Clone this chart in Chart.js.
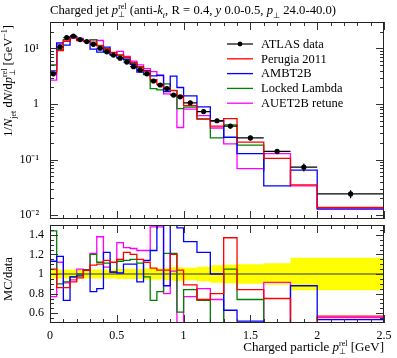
<!DOCTYPE html>
<html>
<head>
<meta charset="utf-8">
<script src="https://cdn.jsdelivr.net/npm/chart.js@4.4.0/dist/chart.umd.min.js"></script>
<style>
  body { margin: 0; background: #fff; }
  #wrap { position: relative; width: 397px; height: 358px; font-family: "Liberation Serif", serif; color: #000; overflow: hidden; }
  canvas { position: absolute; left: 0; }
  #cTop { top: 0; }
  #cRatio { top: 223px; }
  .lbl { position: absolute; white-space: nowrap; font-size: 12.5px; line-height: 14px; }
  .lbl sub, .lbl sup { font-size: 8px; line-height: 0; }
  .ss { display: inline-flex; flex-direction: column; font-size: 8px; line-height: 8px; vertical-align: 5px; }
  .rot { transform-origin: 0 0; transform: rotate(-90deg); }
</style>
</head>
<body>
<div id="wrap">
  <canvas id="cTop" width="397" height="223"></canvas>
  <canvas id="cRatio" width="397" height="135"></canvas>
  <div class="lbl" style="left:50px; top:3px; font-size:12.7px;">Charged jet <i>p</i><span class="ss"><span>rel</span><span>⊥</span></span> (anti-<i>k</i><sub><i>t</i></sub>, R = 0.4, <i>y</i> 0.0-0.5, <i>p</i><sub>⊥</sub> 24.0-40.0)</div>
  <div class="lbl rot" style="left:1px; top:225px; width:200px; text-align:right;">1/<i>N</i><sub>jet</sub> d<i>N</i>/d<i>p</i><span class="ss"><span>rel</span><span>⊥</span></span> [GeV<sup>−1</sup>]</div>
  <div class="lbl rot" style="left:1px; top:329px; width:100px; text-align:center;">MC/data</div>
  <div class="lbl" style="right:13px; top:340px; font-size:13px;">Charged particle <i>p</i><span class="ss"><span>rel</span><span>⊥</span></span> [GeV]</div>
</div>
<script>
// bins in p_T^rel [GeV]
const binEdges = [0, 0.05, 0.1, 0.15, 0.2, 0.25, 0.3, 0.35, 0.4, 0.45, 0.5, 0.55, 0.6, 0.65, 0.7,
                  0.75, 0.8, 0.85, 0.9, 0.95, 1.0, 1.1, 1.2, 1.3, 1.4, 1.6, 1.8, 2.0, 2.5];

const atlasData = [3.5, 10.7, 15.7, 16.8, 14.5, 13.3, 11.9, 10.1, 8.7, 7.6, 6.7, 5.7, 4.7, 4.1,
                   3.5, 2.6, 2.2, 1.9, 1.45, 1.35, 1.05, 0.73, 0.50, 0.40, 0.245, 0.14, 0.073, 0.024];
// relative uncertainty of the data (yellow band)
const atlasRelErr = [0.045, 0.045, 0.045, 0.045, 0.045, 0.045, 0.045, 0.045, 0.045, 0.045, 0.05, 0.05, 0.05, 0.05,
                     0.055, 0.055, 0.055, 0.06, 0.07, 0.07, 0.065, 0.075, 0.09, 0.095, 0.1, 0.11, 0.165, 0.165];

// MC / data
const ratioPerugia = [1.05, 0.86, 0.86, 0.92, 0.96, 1.04, 1.09, 1.10, 1.14, 1.12, 1.15, 1.22, 1.20, 1.15,
                      1.12, 1.06, 1.04, 1.04, 1.20, 1.04, 0.89, 0.74, 0.80, 1.37, 0.84, 0.75, 0.48, 0.57];
const ratioAMBT2B = [1.13, 1.18, 0.73, 0.97, 0.98, 1.04, 0.82, 0.85, 1.22, 1.02, 1.01, 1.10, 1.10, 0.92,
                     1.14, 1.24, 1.50, 0.88, 2.20, 1.47, 1.33, 1.22, 1.00, 0.63, 0.52, 0.24, 0.88, 0.535];
const ratioLocked = [1.44, 0.90, 0.92, 0.97, 1.00, 1.04, 1.20, 1.12, 1.11, 1.02, 1.13, 1.14, 1.15, 1.11,
                     0.97, 0.73, 0.82, 1.21, 1.21, 0.61, 0.84, 0.73, 0.49, 1.05, 0.74, 0.43, 0, 0];
const ratioAUET2B = [0.77, 1.12, 0.91, 0.94, 1.05, 1.04, 1.21, 1.38, 1.07, 1.02, 1.32, 1.27, 1.26, 1.24,
                     1.24, 1.48, 1.48, 0.80, 1.03, 0.28, 0.77, 0.85, 0.74, 0.48, 0.28, 0.915, 0.46, 0.555];

const xTicks = [0, 0.5, 1, 1.5, 2, 2.5];
const logTicks = [0.01, 0.1, 1, 10];
const logTickLabels = ['10⁻²', '10⁻¹', '1', '10¹'];
const ratioTicks = [0.6, 0.8, 1, 1.2, 1.4];

const models = [
  { label: 'Perugia 2011', color: '#ff0000', ratio: ratioPerugia },
  { label: 'AMBT2B', color: '#0000ff', ratio: ratioAMBT2B },
  { label: 'Locked Lambda', color: '#008000', ratio: ratioLocked },
  { label: 'AUET2B retune', color: '#ff00ff', ratio: ratioAUET2B }
];

const FONT = '"Liberation Serif", serif';
const nBins = atlasData.length;

function steps(vals) {
  const pts = vals.map((v, i) => ({ x: binEdges[i], y: v }));
  pts.push({ x: binEdges[nBins], y: vals[nBins - 1] });
  return pts;
}

function stepLine(label, color, vals, order) {
  return { label, data: steps(vals), borderColor: color, borderWidth: 1.3, pointRadius: 0,
           stepped: true, fill: false, order };
}

// no automatic padding for the label overhang, the panels are placed by hand
function noPad(s) {
  s.paddingTop = 0; s.paddingBottom = 0; s.paddingLeft = 0; s.paddingRight = 0;
}

// inward ticks + frame
function frameTicks(yTickList) {
  return {
    id: 'frameTicks',
    afterDraw(chart) {
      const { ctx, chartArea: a, scales } = chart;
      const xs = scales.x, ys = scales.y;
      ctx.save();
      ctx.strokeStyle = '#333';
      ctx.lineWidth = 1;
      ctx.beginPath();
      for (let k = 0; k <= 25; k++) {
        const px = Math.round(xs.getPixelForValue(k / 10)) + 0.5;
        const len = k % 5 === 0 ? 8 : 4;
        ctx.moveTo(px, a.bottom); ctx.lineTo(px, a.bottom - len);
        ctx.moveTo(px, a.top); ctx.lineTo(px, a.top + len);
      }
      yTickList.forEach(t => {
        const py = Math.round(ys.getPixelForValue(t.v)) + 0.5;
        if (py < a.top || py > a.bottom) return;
        const len = t.major ? 8 : 4;
        ctx.moveTo(a.left, py); ctx.lineTo(a.left + len, py);
        ctx.moveTo(a.right, py); ctx.lineTo(a.right - len, py);
      });
      ctx.stroke();
      ctx.strokeStyle = '#222';
      ctx.strokeRect(a.left + 0.5, a.top + 0.5, a.right - a.left - 1, a.bottom - a.top - 1);
      ctx.restore();
    }
  };
}

const logTickList = [];
for (let d = -3; d <= 1; d++) {
  for (let m = 1; m <= 9; m++) logTickList.push({ v: m * Math.pow(10, d), major: m === 1 });
}
const ratioTickList = [];
for (let k = 10; k <= 30; k++) ratioTickList.push({ v: k * 0.05, major: k % 4 === 0 });

const errorBars = {
  id: 'errorBars',
  afterDatasetsDraw(chart) {
    const { ctx, chartArea: a, scales: { x, y } } = chart;
    ctx.save();
    ctx.beginPath();
    ctx.rect(a.left, a.top, a.right - a.left, a.bottom - a.top);
    ctx.clip();
    ctx.strokeStyle = '#000';
    ctx.lineWidth = 1.2;
    ctx.beginPath();
    atlasData.forEach((v, i) => {
      const px = x.getPixelForValue((binEdges[i] + binEdges[i + 1]) / 2);
      ctx.moveTo(px, y.getPixelForValue(v * (1 + atlasRelErr[i])));
      ctx.lineTo(px, y.getPixelForValue(v * (1 - atlasRelErr[i])));
    });
    ctx.stroke();
    ctx.restore();
  }
};

const legendBox = {
  id: 'legendBox',
  afterDraw(chart) {
    const ctx = chart.ctx;
    const entries = [{ label: 'ATLAS data', color: '#000', dot: true }].concat(models);
    ctx.save();
    ctx.font = '12.5px ' + FONT;
    ctx.textBaseline = 'middle';
    entries.forEach((e, i) => {
      const yy = 44 + i * 14.8;
      ctx.strokeStyle = e.color;
      ctx.lineWidth = e.dot ? 1.2 : 1.3;
      ctx.beginPath(); ctx.moveTo(227, yy); ctx.lineTo(253, yy); ctx.stroke();
      if (e.dot) { ctx.fillStyle = '#000'; ctx.beginPath(); ctx.arc(240, yy, 2.4, 0, 2 * Math.PI); ctx.fill(); }
      ctx.fillStyle = '#000';
      ctx.fillText(e.label, 261, yy + 0.5);
    });
    ctx.restore();
  }
};

// data: horizontal bin bars (broken between bins) + markers
const dataBars = [];
atlasData.forEach((v, i) => {
  dataBars.push({ x: binEdges[i], y: v }, { x: binEdges[i + 1], y: v }, { x: binEdges[i + 1], y: null });
});
const dataCentres = atlasData.map((v, i) => ({ x: (binEdges[i] + binEdges[i + 1]) / 2, y: v }));

const commonOpts = {
  responsive: false,
  animation: false,
  events: [],
  plugins: { legend: { display: false }, tooltip: { enabled: false }, filler: { drawTime: 'beforeDatasetsDraw' } }
};

new Chart(document.getElementById('cTop'), {
  type: 'line',
  data: {
    datasets: [
      { label: 'ATLAS data', data: dataCentres, showLine: false, pointRadius: 2.6, pointBackgroundColor: '#000',
        pointBorderWidth: 0, order: 0 },
      { label: 'bars', data: dataBars, borderColor: '#000', borderWidth: 1.3, pointRadius: 0, spanGaps: false, order: 1 }
    ].concat(models.map((m, j) => stepLine(m.label, m.color, m.ratio.map((r, i) => r * atlasData[i]), 2 + j)))
  },
  options: Object.assign({}, commonOpts, {
    layout: { padding: { top: 22, right: 13, bottom: 2, left: 0 } },
    scales: {
      x: { type: 'linear', min: 0, max: 2.5, display: false },
      y: {
        type: 'logarithmic', min: 0.0085, max: 30,
        grid: { display: false, drawTicks: false }, border: { display: false },
        afterBuildTicks: s => { s.ticks = logTicks.map(v => ({ value: v })); },
        afterFit: s => { s.width = 50; noPad(s); },
        ticks: { padding: 11, color: '#000', font: { family: FONT, size: 12 },
                 callback: v => logTickLabels[logTicks.indexOf(v)] }
      }
    }
  }),
  plugins: [errorBars, frameTicks(logTickList), legendBox]
});

new Chart(document.getElementById('cRatio'), {
  type: 'line',
  data: {
    datasets: models.map((m, j) => stepLine(m.label, m.color, m.ratio, 1 + j)).concat([
      { label: 'data', data: [{ x: 0, y: 1 }, { x: 2.5, y: 1 }], borderColor: '#333', borderWidth: 1, pointRadius: 0, order: 6 },
      { label: 'band up', data: steps(atlasRelErr.map(e => 1 + e)), borderWidth: 0, pointRadius: 0, stepped: true, order: 7 },
      { label: 'band dn', data: steps(atlasRelErr.map(e => 1 - e)), borderWidth: 0, pointRadius: 0, stepped: true,
        fill: '-1', backgroundColor: '#ffff00', order: 8 }
    ])
  },
  options: Object.assign({}, commonOpts, {
    layout: { padding: { top: 2, right: 13, bottom: 0, left: 0 } },
    scales: {
      x: {
        type: 'linear', min: 0, max: 2.5,
        grid: { display: false, drawTicks: false }, border: { display: false },
        afterBuildTicks: s => { s.ticks = xTicks.map(v => ({ value: v })); },
        afterFit: s => { s.height = 35; noPad(s); },
        ticks: { padding: 6, color: '#000', maxRotation: 0, font: { family: FONT, size: 12 }, callback: v => String(v) }
      },
      y: {
        type: 'linear', min: 0.5, max: 1.5,
        grid: { display: false, drawTicks: false }, border: { display: false },
        afterBuildTicks: s => { s.ticks = ratioTicks.map(v => ({ value: v })); },
        afterFit: s => { s.width = 50; noPad(s); },
        ticks: { padding: 6, color: '#000', font: { family: FONT, size: 12 },
                 callback: v => (v === 1 ? '1' : v.toFixed(1)) }
      }
    }
  }),
  plugins: [frameTicks(ratioTickList)]
});
</script>
</body>
</html>
